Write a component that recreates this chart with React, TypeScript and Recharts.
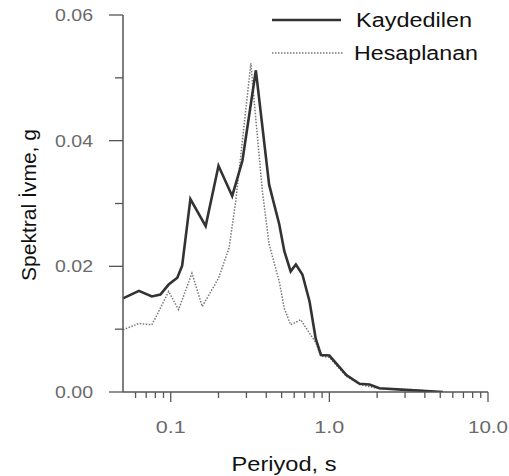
import React from "react";
import { LineChart, Line, XAxis, YAxis } from "recharts";

// Kaydedilen (recorded) spectrum
const periodK = [0.05, 0.063, 0.076, 0.086, 0.097, 0.11, 0.118, 0.133, 0.166, 0.2, 0.244, 0.283, 0.344, 0.417, 0.483, 0.52, 0.57, 0.615, 0.676, 0.75, 0.82, 0.885, 1.0, 1.28, 1.55, 1.79, 2.07, 3.2, 5.2];
const kaydedilen = [0.0149, 0.0161, 0.0152, 0.0155, 0.0171, 0.0182, 0.0201, 0.0307, 0.0264, 0.036, 0.0312, 0.0368, 0.0512, 0.033, 0.0267, 0.0224, 0.0192, 0.0203, 0.0187, 0.0144, 0.0085, 0.0059, 0.0058, 0.0027, 0.0013, 0.0012, 0.0006, 0.0003, 0.0];

// Hesaplanan (computed) spectrum
const periodH = [0.05, 0.063, 0.076, 0.082, 0.097, 0.112, 0.136, 0.158, 0.2, 0.233, 0.257, 0.32, 0.343, 0.378, 0.417, 0.483, 0.52, 0.57, 0.66, 0.766, 0.82, 0.885, 1.0, 1.28, 1.55, 2.07, 3.2, 5.2];
const hesaplanan = [0.0099, 0.0109, 0.0107, 0.0123, 0.016, 0.0131, 0.0189, 0.0136, 0.0181, 0.0229, 0.0304, 0.0523, 0.0437, 0.032, 0.0235, 0.0176, 0.0133, 0.0107, 0.0115, 0.009, 0.0079, 0.0057, 0.0055, 0.0025, 0.0012, 0.0005, 0.0004, 0.0];

const xTicks = [0.06, 0.07, 0.08, 0.09, 0.1, 0.2, 0.3, 0.4, 0.5, 0.6, 0.7, 0.8, 0.9, 1, 2, 3, 4, 5, 6, 7, 8, 9, 10];
const xLabels: Record<string, string> = { "0.1": "0.1", "1": "1.0", "10": "10.0" };
const yTicks = [0, 0.01, 0.02, 0.03, 0.04, 0.05, 0.06];

const FONT = "'Liberation Sans', Arial, sans-serif";
const AXIS = "#555";
const TICK_TEXT = "#6a6a6a";

const kData = periodK.map((t, i) => ({ t, v: kaydedilen[i] }));
const hData = periodH.map((t, i) => ({ t, v: hesaplanan[i] }));

function XTick(props: any) {
  const { x, y, payload } = props;
  const label = xLabels[String(payload.value)];
  const major = label !== undefined;
  return (
    <g>
      <line x1={x} y1={y} x2={x} y2={y + (major ? 10 : 6)} stroke={AXIS} strokeWidth={1.3} />
      {major && (
        <text x={x} y={y + 41} textAnchor="middle" fontSize={17} fill={TICK_TEXT} fontFamily={FONT}
          textLength={label.length * 10} lengthAdjust="spacingAndGlyphs">
          {label}
        </text>
      )}
    </g>
  );
}

function YTick(props: any) {
  const { x, y, payload } = props;
  const v = payload.value as number;
  const major = Math.round(v * 100) % 2 === 0;
  return (
    <g>
      <line x1={x - (major ? 14 : 8)} y1={y} x2={x} y2={y} stroke={AXIS} strokeWidth={1.3} />
      {major && (
        <text x={x - 30} y={y + 6} textAnchor="end" fontSize={17} fill={TICK_TEXT} fontFamily={FONT}
          textLength={38} lengthAdjust="spacingAndGlyphs">
          {v.toFixed(2)}
        </text>
      )}
    </g>
  );
}

export default function App() {
  return (
    <div style={{ position: "fixed", left: 0, top: 0, width: 509, height: 476, overflow: "hidden", background: "#fff" }}>
      <LineChart width={509} height={476} margin={{ top: 15, right: 21, left: 63, bottom: 44 }}>
        <XAxis
          type="number"
          dataKey="t"
          scale="log"
          domain={[0.05, 10]}
          allowDataOverflow
          ticks={xTicks}
          interval={0}
          tick={<XTick />}
          tickLine={false}
          tickSize={0}
          tickMargin={0}
          height={40}
          axisLine={{ stroke: AXIS, strokeWidth: 1.5 }}
        />
        <YAxis
          type="number"
          dataKey="v"
          domain={[0, 0.06]}
          allowDataOverflow
          ticks={yTicks}
          interval={0}
          tick={<YTick />}
          tickLine={false}
          tickSize={0}
          tickMargin={0}
          width={60}
          axisLine={{ stroke: AXIS, strokeWidth: 1.5 }}
        />
        <Line data={hData} dataKey="v" name="Hesaplanan" type="linear" stroke="#777" strokeWidth={1.5}
          strokeDasharray="1.5 1.5" dot={false} isAnimationActive={false} />
        <Line data={kData} dataKey="v" name="Kaydedilen" type="linear" stroke="#333" strokeWidth={2.6}
          dot={false} isAnimationActive={false} />
      </LineChart>
      <svg width={509} height={476} style={{ position: "absolute", left: 0, top: 0, pointerEvents: "none" }}>
        {/* legend */}
        <line x1={272} y1={20} x2={341} y2={20} stroke="#333" strokeWidth={2.6} />
        <text x={356} y={27} fontSize={20} fontFamily={FONT} fill="#111" textLength={116} lengthAdjust="spacingAndGlyphs">
          Kaydedilen
        </text>
        <line x1={272} y1={53} x2={343} y2={53} stroke="#777" strokeWidth={1.3} strokeDasharray="1.5 1.5" />
        <text x={354} y={60} fontSize={20} fontFamily={FONT} fill="#111" textLength={124} lengthAdjust="spacingAndGlyphs">
          Hesaplanan
        </text>
        {/* axis titles */}
        <text x={36} y={205} transform="rotate(-90 36 205)" textAnchor="middle" fontSize={20} fontFamily={FONT}
          fill="#111" textLength={152} lengthAdjust="spacingAndGlyphs">
          Spektral İvme, g
        </text>
        <text x={284} y={471} textAnchor="middle" fontSize={20} fontFamily={FONT} fill="#111"
          textLength={105} lengthAdjust="spacingAndGlyphs">
          Periyod, s
        </text>
      </svg>
    </div>
  );
}
